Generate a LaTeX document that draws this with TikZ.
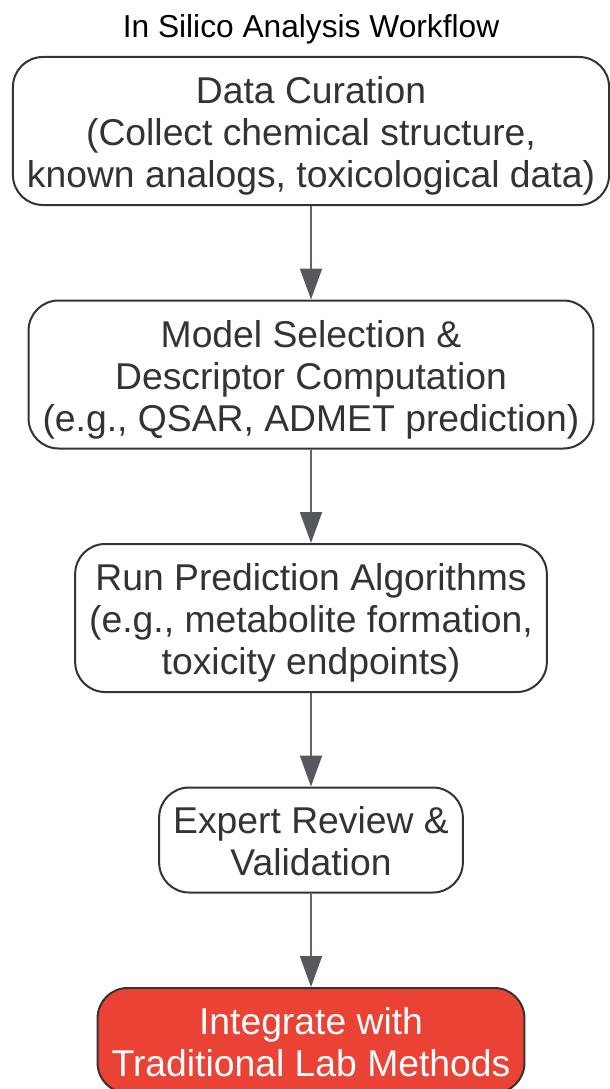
\documentclass[tikz,border=0pt]{standalone}
\usepackage{fontspec}
\setmainfont{Liberation Sans}
\usetikzlibrary{positioning}
\usetikzlibrary{arrows.meta}
\definecolor{boxline}{HTML}{333333}
\definecolor{flowline}{HTML}{666666}
\definecolor{tipgray}{HTML}{55585C}
\definecolor{labred}{HTML}{EA4335}
\newcommand{\topstrut}{\rule{0pt}{1.0em}}
\newcommand{\botstrut}{\rule[-0.212em]{0pt}{0.212em}}
\begin{document}
\begin{tikzpicture}[x=1pt,y=1pt,
    stage/.style={draw=boxline,line width=2pt,rounded corners=30pt,fill=white,
        align=center,text=boxline,inner xsep=14pt,
        font=\fontsize{37.3}{42}\selectfont},
    final/.style={stage,fill=labred,text=white},
    flow/.style={draw=flowline,line width=2pt,
        -{Triangle[length=31pt,width=22pt,color=tipgray]}},
    node distance=93.5pt]
    \useasboundingbox (0,0) rectangle (610,-1089);
    \node[anchor=base,font=\fontsize{31.7}{36}\selectfont] (title) at (311,-38) {In Silico Analysis Workflow};
    \node[stage,minimum height=148pt] (curation) at (311,-131)
        {\topstrut Data Curation\\(Collect chemical structure,\\known analogs, toxicological data)\botstrut};
    \node[stage,minimum height=148pt,below=of curation] (model)
        {\topstrut Model Selection \&\\Descriptor Computation\\(e.g., QSAR, ADMET prediction)\botstrut};
    \node[stage,minimum height=148pt,below=of model] (predict)
        {\topstrut Run Prediction Algorithms\\(e.g., metabolite formation,\\toxicity endpoints)\botstrut};
    \node[stage,minimum height=105pt,below=of predict] (review)
        {\topstrut Expert Review \&\\Validation\botstrut};
    \node[final,minimum height=105pt,below=of review] (integrate)
        {\topstrut Integrate with\\Traditional Lab Methods\botstrut};
    \draw[flow] (curation) -- (model);
    \draw[flow] (model) -- (predict);
    \draw[flow] (predict) -- (review);
    \draw[flow] (review) -- (integrate);
\end{tikzpicture}
\end{document}
